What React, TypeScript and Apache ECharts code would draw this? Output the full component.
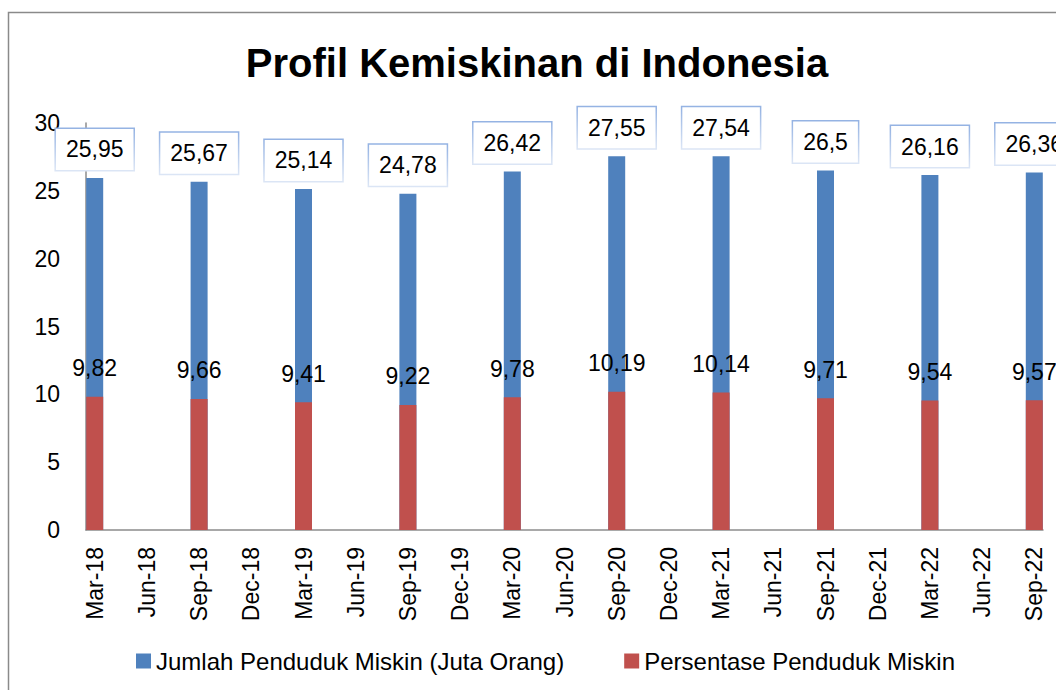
import React, { useEffect, useRef } from "react";
import * as echarts from "echarts";

const TITLE = "Profil Kemiskinan di Indonesia";
const SERIES_NAMES = ["Jumlah Penduduk Miskin (Juta Orang)", "Persentase Penduduk Miskin"];
const MONTHS = ["Jan", "Feb", "Mar", "Apr", "May", "Jun", "Jul", "Aug", "Sep", "Oct", "Nov", "Dec"];
const PERIODS = ["Mar-18", "Sep-18", "Mar-19", "Sep-19", "Mar-20", "Sep-20", "Mar-21", "Sep-21", "Mar-22", "Sep-22"];
const JUMLAH = [25.95, 25.67, 25.14, 24.78, 26.42, 27.55, 27.54, 26.5, 26.16, 26.36];
const PERSEN = [9.82, 9.66, 9.41, 9.22, 9.78, 10.19, 10.14, 9.71, 9.54, 9.57];
const Y_TICKS = [0, 5, 10, 15, 20, 25, 30];

// monthly date axis categories from Mar-18 to Sep-22
const CATEGORIES: string[] = [];
for (let y = 2018; y <= 2022; y++) {
  for (let m = 0; m < 12; m++) {
    if (y === 2018 && m < 2) continue;
    if (y === 2022 && m > 8) continue;
    CATEGORIES.push(`${MONTHS[m]}-${String(y).slice(2)}`);
  }
}

const toData = (vals: number[]) =>
  CATEGORIES.map((c) => {
    const i = PERIODS.indexOf(c);
    return i >= 0 ? vals[i] : "-";
  });

const FONT = "'Liberation Sans', Arial, sans-serif";

export default function App() {
  const ref = useRef<HTMLDivElement>(null);
  useEffect(() => {
    document.body.style.margin = "0";
    const chart = echarts.init(ref.current!, null, { renderer: "svg" });
    const fmt = (p: any) => String(p.value).replace(".", ",");
    chart.setOption({
      animation: false,
      backgroundColor: "#ffffff",
      textStyle: { fontFamily: FONT },
      graphic: [
        {
          type: "rect",
          shape: { x: 8.5, y: 12.5, width: 1200, height: 800 },
          style: { fill: "none", stroke: "#8a8a8a", lineWidth: 1.5 },
          silent: true,
        },
        {
          type: "text",
          x: 537,
          y: 63,
          style: {
            text: TITLE,
            font: `bold 40px ${FONT}`,
            fill: "#000",
            textAlign: "center",
            textVerticalAlign: "middle",
          },
        },
      ],
      legend: {
        data: SERIES_NAMES,
        left: 131,
        top: 644,
        itemWidth: 15,
        itemHeight: 15,
        itemGap: 60,
        icon: "rect",
        textStyle: { fontSize: 24, color: "#000", fontFamily: FONT },
      },
      grid: { left: 86, right: 13, top: 123, bottom: 160, containLabel: false },
      xAxis: {
        type: "category",
        data: CATEGORIES,
        boundaryGap: true,
        axisLine: { lineStyle: { color: "#8c8c8c", width: 1.5 } },
        axisTick: { show: false },
        axisLabel: {
          interval: 2,
          rotate: 90,
          margin: 17,
          fontSize: 23,
          color: "#000",
          fontFamily: FONT,
        },
      },
      yAxis: {
        type: "value",
        min: 0,
        max: 30,
        interval: 5,
        axisLine: { show: true, lineStyle: { color: "#8c8c8c", width: 1.5 } },
        axisTick: { show: false },
        splitLine: { show: false },
        axisLabel: {
          margin: 26,
          fontSize: 23,
          color: "#000",
          fontFamily: FONT,
          formatter: (v: number) => (Y_TICKS.includes(v) ? String(v) : ""),
        },
      },
      series: [
        {
          name: SERIES_NAMES[0],
          type: "bar",
          data: toData(JUMLAH),
          barWidth: 17,
          barGap: "-100%",
          itemStyle: { color: "#4f81bd" },
          label: {
            show: true,
            position: "top",
            distance: 8,
            formatter: fmt,
            fontSize: 23,
            lineHeight: 23,
            color: "#000",
            fontFamily: FONT,
            padding: [9, 10, 9, 10],
            backgroundColor: "#fff",
            borderWidth: 1.5,
            borderColor: new echarts.graphic.LinearGradient(0, 0, 0, 1, [
              { offset: 0, color: "#95b3e3" },
              { offset: 1, color: "#dbe5f5" },
            ]),
          },
          z: 2,
        },
        {
          name: SERIES_NAMES[1],
          type: "bar",
          data: toData(PERSEN),
          barWidth: 17,
          barGap: "-100%",
          itemStyle: { color: "#c0504d" },
          label: {
            show: true,
            position: "top",
            distance: 8,
            formatter: fmt,
            fontSize: 23,
            lineHeight: 23,
            color: "#000",
            fontFamily: FONT,
            padding: [9, 10, 9, 10],
          },
          z: 3,
        },
      ],
    });
    return () => chart.dispose();
  }, []);
  return <div ref={ref} style={{ width: 1056, height: 690 }} />;
}
